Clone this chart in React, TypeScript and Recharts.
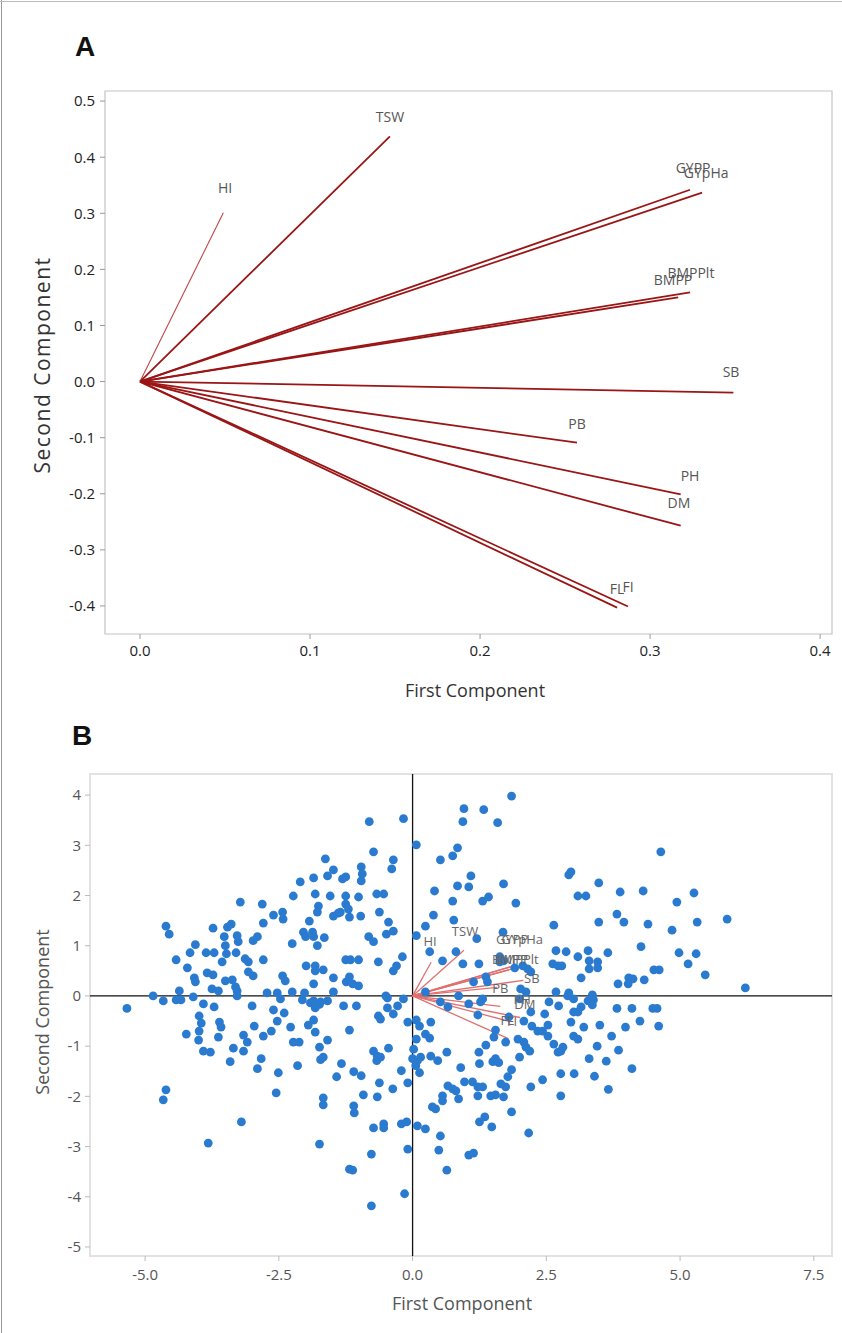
import React from 'react';
import { ScatterChart, Scatter, XAxis, YAxis, ReferenceLine, ReferenceArea } from 'recharts';

// ---------- Panel A: loading plot ----------
const varNames = ['HI', 'TSW', 'GYPP', 'GYpHa', 'BMPP', 'BMPPlt', 'SB', 'PB', 'PH', 'DM', 'FL', 'FI'];
const loadA_PC1 = [0.049, 0.147, 0.3235, 0.3306, 0.3165, 0.3235, 0.349, 0.257, 0.318, 0.318, 0.2806, 0.287];
const loadA_PC2 = [0.301, 0.437, 0.342, 0.337, 0.15, 0.159, -0.0196, -0.109, -0.201, -0.257, -0.403, -0.401];
const labelA_PC1 = [0.05, 0.147, 0.3253, 0.333, 0.3135, 0.324, 0.3476, 0.257, 0.3235, 0.317, 0.2806, 0.287];
const labelA_PC2 = [0.346, 0.472, 0.381, 0.3725, 0.182, 0.194, 0.018, -0.075, -0.1676, -0.2157, -0.369, -0.365];
const xTicksA = [0, 0.1, 0.2, 0.3, 0.4];
const yTicksA = [0.5, 0.4, 0.3, 0.2, 0.1, 0, -0.1, -0.2, -0.3, -0.4];

// ---------- Panel B: biplot ----------
const loadB_PC1 = [0.346, 0.96, 1.83, 1.93, 1.8, 1.9, 2.07, 1.58, 1.64, 2.01, 1.82, 1.79];
const loadB_PC2 = [0.67, 0.91, 0.58, 0.61, 0.52, 0.55, 0.31, 0.17, -0.21, -0.43, -0.51, -0.85];
const labelB_PC1 = [0.327, 0.98, 1.86, 2.05, 1.82, 1.95, 2.23, 1.64, 2.05, 2.1, 1.77, 1.86];
const labelB_PC2 = [1.086, 1.3, 1.125, 1.125, 0.727, 0.727, 0.35, 0.15, -0.07, -0.17, -0.47, -0.49];
const xTicksB = [-5, -2.5, 0, 2.5, 5, 7.5];
const yTicksB = [4, 3, 2, 1, 0, -1, -2, -3, -4, -5];

const scoresUpperLeft: [number, number][] = [
  [-1.63, 2.73], [-1.48, 2.51], [-1.59, 2.39], [-1.25, 2.37], [-2.1, 2.27], [-1.85, 2.35], [-2.23, 1.99],
  [-1.82, 2.03], [-1.54, 1.99], [-1.25, 1.99], [-3.22, 1.87], [-2.81, 1.83], [-2.6, 1.61], [-2.43, 1.67],
  [-2.42, 1.53], [-1.76, 1.79], [-1.78, 1.67], [-1.48, 1.59], [-1.39, 1.65], [-1.25, 1.83], [-2.79, 1.45],
  [-1.93, 1.49], [-4.61, 1.39], [-4.55, 1.23], [-3.73, 1.35], [-3.46, 1.37], [-3.39, 1.43], [-3.52, 1.18],
  [-3.5, 1.0], [-3.28, 1.2], [-3.26, 1.08], [-2.98, 1.1], [-2.9, 1.18], [-2.25, 1.04], [-2.04, 1.27],
  [-2.0, 1.18], [-1.87, 1.27], [-1.85, 1.18], [-1.78, 1.0], [-1.65, 1.16], [-4.06, 1.02], [-4.16, 0.86],
  [-3.86, 0.86], [-3.71, 0.86], [-3.48, 0.84], [-3.3, 0.86], [-4.42, 0.72], [-3.56, 0.68], [-3.13, 0.74],
  [-3.07, 0.68], [-2.79, 0.72], [-1.25, 0.72], [-4.21, 0.56], [-3.84, 0.46], [-3.73, 0.42], [-4.08, 0.36],
  [-4.06, 0.28], [-3.5, 0.3], [-3.37, 0.32], [-3.07, 0.48], [-2.98, 0.4], [-2.43, 0.4], [-2.38, 0.3],
  [-1.99, 0.6], [-1.82, 0.6], [-1.82, 0.5], [-1.67, 0.52], [-1.85, 0.24], [-1.48, 0.36], [-1.24, 0.28],
  [-3.75, 0.14], [-3.63, 0.1], [-3.31, 0.18], [-3.28, 0.1], [-4.85, 0.0], [-4.36, 0.1], [-4.1, -0.02],
  [-3.28, 0.0], [-2.72, 0.06], [-2.53, 0.06], [-2.25, 0.08], [-2.02, 0.06], [-1.48, 0.08],
];

const scoresLowerLeft: [number, number][] = [
  [-4.66, -0.1], [-4.42, -0.08], [-4.33, -0.08], [-2.47, -0.06], [-2.06, -0.08], [-1.85, -0.1], [-1.72, -0.12],
  [-1.59, -0.1], [-5.34, -0.25], [-3.91, -0.16], [-3.71, -0.22], [-3.99, -0.4], [-3.95, -0.54], [-3.99, -0.7],
  [-4.0, -0.88], [-4.23, -0.76], [-3.91, -1.1], [-3.78, -1.12], [-3.61, -0.52], [-3.58, -0.62], [-3.63, -0.82],
  [-3.0, -0.2], [-2.96, -0.6], [-3.16, -0.78], [-3.09, -0.92], [-3.16, -1.1], [-3.35, -1.04], [-3.41, -1.31],
  [-2.79, -0.8], [-2.83, -1.25], [-2.9, -1.45], [-2.64, -0.7], [-2.6, -0.28], [-2.53, -0.5], [-2.4, -0.34],
  [-2.28, -0.62], [-2.23, -0.92], [-2.12, -0.92], [-2.51, -1.53], [-2.15, -1.39], [-2.55, -1.93], [-1.91, -0.14],
  [-1.82, -0.24], [-1.74, -0.17], [-1.85, -0.48], [-1.95, -0.58], [-1.82, -0.72], [-1.59, -0.88], [-1.74, -1.02],
  [-1.72, -1.27], [-1.67, -1.22], [-1.33, -1.35], [-1.42, -1.61], [-1.67, -2.03], [-1.67, -2.17], [-4.61, -1.87],
  [-4.66, -2.07], [-3.2, -2.51], [-3.82, -2.93], [-1.74, -2.95], [-1.18, -0.68], [-1.18, -3.45], [-1.29, -0.2],
];

const scoresLowerMiddle: [number, number][] = [
  [-1.05, -0.2], [-0.64, -0.4], [-0.6, -0.46], [-0.47, -0.24], [-0.36, -0.36], [-0.28, -0.2], [-0.17, -0.06],
  [-0.5, 0.0], [-0.09, -0.52], [0.07, -0.48], [0.13, -0.6], [0.34, -0.52], [0.07, -0.86], [0.24, -0.76],
  [0.32, -0.84], [-0.73, -1.1], [-0.66, -1.2], [-0.67, -1.29], [-0.6, -1.22], [-0.45, -1.04], [0.02, -1.06],
  [0.0, -1.25], [0.09, -1.29], [0.15, -1.22], [0.06, -1.39], [0.34, -1.2], [0.47, -1.29], [0.64, -1.12],
  [-1.1, -1.51], [-0.96, -1.59], [-0.21, -1.49], [0.13, -1.53], [-0.62, -1.73], [-0.37, -1.85], [-0.09, -1.73],
  [-0.92, -1.97], [-0.66, -2.01], [-1.1, -2.19], [-1.09, -2.33], [0.37, -2.21], [0.43, -2.25], [-0.73, -2.63],
  [-0.54, -2.55], [-0.54, -2.63], [-0.21, -2.55], [-0.11, -2.51], [0.09, -2.59], [0.24, -2.65], [0.52, -2.79],
  [-0.77, -3.15], [-0.09, -3.05], [0.49, -3.07], [1.05, -3.17], [1.14, -3.13], [-1.12, -3.47], [0.64, -3.47],
  [-0.15, -3.94], [-0.77, -4.18], [0.66, -1.79], [0.75, -1.85], [0.81, -1.89], [0.86, -2.05], [0.56, -1.99],
  [0.56, -2.09], [0.9, -1.43], [0.97, -1.71], [1.12, -1.71], [1.24, -1.12], [1.25, -1.35], [1.37, -0.98],
  [1.5, -1.31], [1.55, -1.25], [1.61, -1.33], [1.55, -0.68], [1.52, -0.82], [1.22, -1.81], [1.31, -1.81],
  [1.22, -1.99], [1.46, -1.99], [1.55, -1.97], [1.7, -2.01], [1.65, -1.75], [1.74, -1.81], [1.78, -1.61],
  [1.85, -1.47], [1.74, -0.92], [1.25, -2.51], [1.35, -2.41], [1.48, -2.61], [1.85, -2.31], [2.17, -2.73],
  [2.0, -1.22], [1.97, -0.86], [2.08, -0.92], [2.12, -1.02], [2.19, -1.1], [2.21, -1.81], [2.43, -1.67],
  [2.77, -1.55], [2.77, -1.99], [2.08, -0.5], [2.23, -0.6], [2.34, -0.7], [2.43, -0.7], [2.53, -0.58],
  [2.47, -0.36], [2.53, -0.8], [2.64, -0.96], [2.72, -1.12], [2.77, -1.1], [2.81, -1.02], [2.21, -0.32],
  [2.55, -0.12], [2.73, -0.2], [3.01, -0.32], [3.09, -0.32], [3.15, -0.22], [2.96, -0.52], [3.01, -0.8],
  [3.09, -0.86], [3.2, -0.62], [2.9, 0.0], [3.01, -0.06], [1.8, -0.42], [1.22, -0.38], [1.27, -0.12],
  [1.31, -0.06], [1.05, -0.16], [0.86, 0.0], [0.52, -0.12], [0.66, -0.22], [2.0, -0.06],
];

const scoresUpperMiddle: [number, number][] = [
  [1.85, 3.98], [0.96, 3.73], [1.33, 3.71], [0.94, 3.47], [1.59, 3.45], [-0.81, 3.47], [-0.17, 3.53],
  [0.07, 3.01], [-0.73, 2.87], [0.52, 2.71], [0.75, 2.79], [0.84, 2.95], [-0.36, 2.71], [-0.39, 2.53],
  [-0.96, 2.57], [-0.94, 2.43], [-0.96, 2.29], [-1.31, 2.33], [1.09, 2.39], [1.05, 2.17], [0.84, 2.19],
  [1.7, 2.23], [0.41, 2.09], [2.96, 2.47], [2.92, 2.41], [-1.2, 1.73], [-1.01, 1.97], [-0.67, 2.03],
  [-0.54, 2.03], [0.75, 1.89], [1.31, 1.89], [1.42, 1.97], [1.93, 1.85], [3.09, 1.99], [3.24, 1.99],
  [-1.35, 1.67], [-1.18, 1.57], [-0.97, 1.59], [-0.62, 1.67], [0.39, 1.61], [-0.45, 1.47], [0.77, 1.51],
  [0.24, 1.39], [-0.36, 1.29], [-0.49, 1.23], [-0.82, 1.18], [-0.73, 1.08], [0.07, 1.2], [1.2, 1.14],
  [1.69, 1.27], [2.64, 1.41], [2.68, 0.9], [2.87, 0.88], [3.09, 0.78], [3.28, 0.9], [0.32, 0.88],
  [0.81, 0.88], [-1.16, 0.72], [-1.01, 0.72], [-0.64, 0.68], [-0.19, 0.78], [-0.3, 0.6], [-0.36, 0.5],
  [0.56, 0.7], [0.94, 0.64], [1.24, 0.64], [1.63, 0.78], [1.63, 0.68], [1.7, 0.7], [1.91, 0.56],
  [2.06, 0.6], [2.15, 0.54], [2.21, 0.48], [2.62, 0.64], [2.72, 0.6], [2.79, 0.6], [3.15, 0.36],
  [-1.18, 0.38], [-1.12, 0.24], [-1.01, 0.2], [1.14, 0.28], [1.37, 0.38], [1.4, 0.28], [0.24, 0.08],
  [-0.47, -0.04], [2.02, 0.14], [2.12, 0.08], [2.68, 0.08], [2.92, 0.06], [3.28, -0.1],
];

const scoresRight: [number, number][] = [
  [4.64, 2.87], [3.48, 2.25], [3.88, 2.07], [4.31, 2.09], [5.26, 2.05], [4.94, 1.87], [3.82, 1.63],
  [3.48, 1.47], [3.95, 1.47], [4.4, 1.43], [5.32, 1.47], [5.88, 1.53], [4.85, 1.31], [4.27, 0.98],
  [3.65, 0.86], [4.98, 0.86], [5.3, 0.84], [5.15, 0.64], [3.3, 0.7], [3.3, 0.54], [3.46, 0.68],
  [3.46, 0.56], [4.51, 0.52], [4.61, 0.52], [5.47, 0.42], [4.04, 0.36], [4.12, 0.34], [4.03, 0.24],
  [3.84, 0.24], [4.33, 0.32], [6.22, 0.16], [3.36, 0.02], [3.38, -0.08], [3.36, -0.18], [3.82, -0.25],
  [4.1, -0.25], [4.49, -0.25], [4.57, -0.25], [3.5, -0.58], [3.72, -0.8], [3.98, -0.62], [4.25, -0.5],
  [4.6, -0.6], [3.45, -1.0], [3.85, -1.08], [3.3, -1.25], [3.62, -1.3], [4.1, -1.45], [3.4, -1.6],
  [3.66, -1.86], [3.02, -1.55],
];

const allScores = [...scoresUpperLeft, ...scoresLowerLeft, ...scoresLowerMiddle, ...scoresUpperMiddle, ...scoresRight];
const scoreData = allScores.map(([x, y]) => ({ x, y }));
const labelDataA = varNames.map((name, i) => ({ x: labelA_PC1[i], y: labelA_PC2[i], name }));
const labelDataB = varNames.map((name, i) => ({ x: labelB_PC1[i], y: labelB_PC2[i], name }));

const FONT = '"Open Sans", "Noto Sans", sans-serif';

const LabelShape = (color: string, size: number) => (props: any) => {
  const { cx, cy, payload } = props;
  return (
    <text x={cx} y={cy} textAnchor="middle" dominantBaseline="central" fontSize={size} fill={color} fontFamily={FONT}>
      {payload.name}
    </text>
  );
};

const Dot = (props: any) => <circle cx={props.cx} cy={props.cy} r={4.4} fill="#2a7bcf" />;

const domA_X: [number, number] = [-0.0206, 0.407];
const domA_Y: [number, number] = [-0.45, 0.518];
const domB_X: [number, number] = [-6.03, 7.84];
const domB_Y: [number, number] = [-5.18, 4.42];

export default function App() {
  return (
    <div style={{ position: 'absolute', left: 0, top: 0, width: 842, height: 1333, background: '#fff', overflow: 'hidden' }}>
      {/* Panel A */}
      <div style={{ position: 'absolute', left: 0, top: 0 }}>
        <ScatterChart width={842} height={700} margin={{ top: 91, right: 10, bottom: 26, left: 45 }}>
          <XAxis
            type="number" dataKey="x" domain={domA_X} ticks={xTicksA} allowDataOverflow
            tickFormatter={(v: number) => v.toFixed(1)} height={40} axisLine={false}
            tickLine={{ stroke: '#999' }} tickSize={5} tickMargin={6}
            tick={{ fontSize: 15, fill: '#222', fontFamily: FONT }}
          />
          <YAxis
            type="number" dataKey="y" domain={domA_Y} ticks={yTicksA} allowDataOverflow
            tickFormatter={(v: number) => v.toFixed(1)} width={60} axisLine={false}
            tickLine={{ stroke: '#999' }} tickSize={5} tickMargin={5}
            tick={{ fontSize: 15, fill: '#222', fontFamily: FONT }}
          />
          <ReferenceArea x1={domA_X[0]} x2={domA_X[1]} y1={domA_Y[0]} y2={domA_Y[1]} fill="none" stroke="#c4c4c4" strokeWidth={1.2} />
          {varNames.map((n, i) => (
            <ReferenceLine
              key={n}
              segment={[{ x: 0, y: 0 }, { x: loadA_PC1[i], y: loadA_PC2[i] }]}
              stroke={n === 'HI' ? '#c04545' : '#9a1515'}
              strokeWidth={n === 'HI' ? 1.1 : 1.8}
            />
          ))}
          <Scatter data={labelDataA} shape={LabelShape('#555', 14)} isAnimationActive={false} />
        </ScatterChart>
      </div>

      {/* Panel B */}
      <div style={{ position: 'absolute', left: 0, top: 700 }}>
        <ScatterChart width={842} height={633} margin={{ top: 74, right: 10, bottom: 27, left: 40 }}>
          <XAxis
            type="number" dataKey="x" domain={domB_X} ticks={xTicksB} allowDataOverflow
            tickFormatter={(v: number) => v.toFixed(1)} height={50} axisLine={false}
            tickLine={{ stroke: '#bbb' }} tickSize={5} tickMargin={8}
            tick={{ fontSize: 15, fill: '#555', fontFamily: FONT }}
          />
          <YAxis
            type="number" dataKey="y" domain={domB_Y} ticks={yTicksB} allowDataOverflow
            tickFormatter={(v: number) => String(v)} width={50} axisLine={false}
            tickLine={{ stroke: '#bbb' }} tickSize={5} tickMargin={4}
            tick={{ fontSize: 15, fill: '#555', fontFamily: FONT }}
          />
          <ReferenceArea x1={domB_X[0]} x2={domB_X[1]} y1={domB_Y[0]} y2={domB_Y[1]} fill="none" stroke="#e2e2e2" strokeWidth={2} />
          <Scatter data={scoreData} shape={Dot} isAnimationActive={false} />
          <ReferenceLine x={0} stroke="#111" strokeWidth={1.3} />
          <ReferenceLine y={0} stroke="#111" strokeWidth={1.3} />
          {varNames.map((n, i) => (
            <ReferenceLine
              key={n}
              segment={[{ x: 0, y: 0 }, { x: loadB_PC1[i], y: loadB_PC2[i] }]}
              stroke="#e07070"
              strokeWidth={1.3}
            />
          ))}
          <Scatter data={labelDataB} shape={LabelShape('#666', 13)} isAnimationActive={false} />
        </ScatterChart>
      </div>

      {/* Panel letters, axis titles and frame */}
      <svg width={842} height={1333} style={{ position: 'absolute', left: 0, top: 0, pointerEvents: 'none' }}>
        <line x1={1.5} y1={0} x2={1.5} y2={1333} stroke="#999" strokeWidth={1} />
        <line x1={0} y1={1.5} x2={842} y2={1.5} stroke="#bbb" strokeWidth={1} />
        <text x={85} y={56} textAnchor="middle" fontSize={28} fontWeight="bold" fontFamily='"Liberation Sans", Arial, sans-serif' fill="#111">A</text>
        <text x={82} y={745} textAnchor="middle" fontSize={28} fontWeight="bold" fontFamily='"Liberation Sans", Arial, sans-serif' fill="#111">B</text>
        <text x={42} y={365} textAnchor="middle" dominantBaseline="central" fontSize={21} letterSpacing={1.5} fill="#333" fontFamily={FONT} transform="rotate(-90 42 365)">Second Component</text>
        <text x={475} y={690} textAnchor="middle" dominantBaseline="central" fontSize={18} fill="#333" fontFamily={FONT}>First Component</text>
        <text x={42} y={1012} textAnchor="middle" dominantBaseline="central" fontSize={18} fill="#555" fontFamily={FONT} transform="rotate(-90 42 1012)">Second Component</text>
        <text x={462} y={1303} textAnchor="middle" dominantBaseline="central" fontSize={18} fill="#555" fontFamily={FONT}>First Component</text>
      </svg>
    </div>
  );
}
